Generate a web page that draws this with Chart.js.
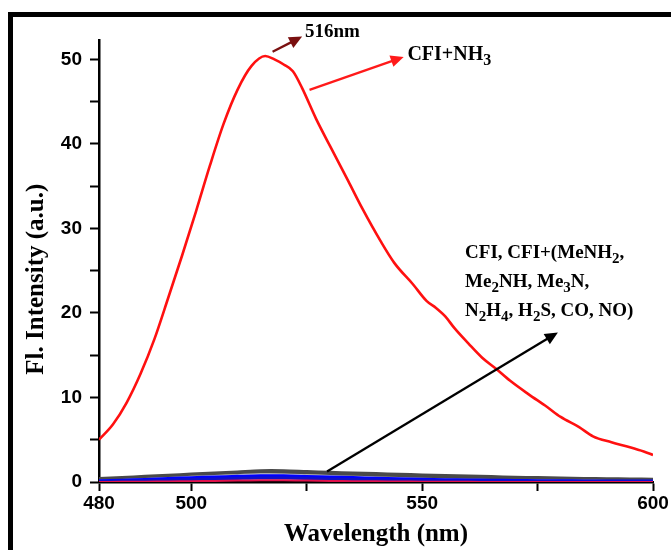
<!DOCTYPE html>
<html>
<head>
<meta charset="utf-8">
<script src="https://cdn.jsdelivr.net/npm/chart.js@4/dist/chart.umd.min.js"></script>
<style>
  html, body { margin: 0; padding: 0; background: #fff; }
  #wrap { width: 671px; height: 550px; position: relative; }
</style>
</head>
<body>
<div id="wrap"><canvas id="c" width="671" height="550"></canvas></div>
<script>
// ---------- data ----------
const nh3Wavelengths = [480,483,486,489,492,495,498,501,504,507,510,513,516,518,520,522,524,527,530,534,537,541,544,548,551,553,555,557,560,563,566,569,573,577,580,584,587,591,595,598,600];
const nh3Intensity   = [5.0,6.8,9.4,12.8,16.9,21.8,26.8,32.0,37.4,42.4,46.4,49.2,50.4,50.0,49.4,48.6,46.6,43.0,39.8,35.6,32.4,28.5,25.9,23.4,21.4,20.6,19.6,18.2,16.4,14.7,13.4,12.0,10.4,8.9,7.7,6.5,5.4,4.7,4.1,3.6,3.2];

const lowWavelengths = [480,485,490,495,500,505,510,515,520,525,530,535,540,545,550,555,560,565,570,575,580,585,590,595,600];
const cfiGray        = [0.30,0.40,0.55,0.68,0.82,0.95,1.08,1.22,1.22,1.12,1.03,0.95,0.88,0.80,0.72,0.65,0.58,0.52,0.45,0.40,0.35,0.30,0.27,0.24,0.22];
const lightGray      = [0.10,0.18,0.30,0.42,0.55,0.65,0.75,0.85,0.84,0.75,0.65,0.56,0.48,0.40,0.33,0.27,0.22,0.18,0.14,0.12,0.10,0.08,0.07,0.06,0.05];
const blueSeries     = [0.05,0.12,0.22,0.32,0.42,0.50,0.58,0.65,0.64,0.57,0.50,0.43,0.36,0.30,0.24,0.19,0.15,0.12,0.09,0.07,0.05,0.04,0.03,0.03,0.02];
const navySeries     = [0.03,0.08,0.15,0.22,0.30,0.36,0.42,0.47,0.46,0.41,0.36,0.30,0.25,0.20,0.16,0.12,0.10,0.08,0.06,0.05,0.04,0.03,0.02,0.02,0.02];
const redLow         = [0.00,0.02,0.04,0.07,0.10,0.13,0.17,0.20,0.20,0.17,0.13,0.10,0.08,0.06,0.04,0.03,0.02,0.01,0.01,0.00,0.00,0.00,0.00,0.00,0.00];

const xTicks = [480, 500, 525, 550, 575, 600];
const xLabelled = [480, 500, 550, 600];
const yTicks = [0,5,10,15,20,25,30,35,40,45,50];
const yLabelled = [0,10,20,30,40,50];
const yTitle = 'Fl. Intensity (a.u.)';
const xTitle = 'Wavelength (nm)';

// ---------- annotation anchors (data coordinates) ----------
const notes = {
  peakArrow:  { from: [517.6, 50.9], to: [524.0, 52.7], color: '#7a1010' },
  peakText:   { at: [524.6, 53.2], parts: [['516nm', 0]], size: 19 },
  nh3Arrow:   { from: [525.6, 46.4], to: [546.0, 50.3], color: '#ff1a1a' },
  nh3Text:    { at: [546.8, 50.6], parts: [['CFI+NH', 0], ['3', 1]], size: 20 },
  otherArrow: { from: [529.4, 1.25], to: [579.4, 17.7], color: '#000000' },
  otherText1: { at: [559.3, 27.1], parts: [['CFI, CFI+(MeNH', 0], ['2', 1], [',', 0]], size: 19 },
  otherText2: { at: [559.3, 23.6], parts: [['Me', 0], ['2', 1], ['NH, Me', 0], ['3', 1], ['N,', 0]], size: 19 },
  otherText3: { at: [559.3, 20.2], parts: [['N', 0], ['2', 1], ['H', 0], ['4', 1], [', H', 0], ['2', 1], ['S, CO, NO)', 0]], size: 19 }
};

function pts(xs, ys) { return xs.map((x, i) => ({ x: x, y: ys[i] })); }

const SERIF = '"Liberation Serif", "Times New Roman", serif';
const SANS = '"Liberation Sans", Arial, sans-serif';

function drawArrow(ctx, x1, y1, x2, y2, color) {
  const ang = Math.atan2(y2 - y1, x2 - x1);
  const hl = 13, hw = 6;
  ctx.save();
  ctx.strokeStyle = color; ctx.fillStyle = color;
  ctx.lineWidth = 2.3;
  ctx.beginPath();
  ctx.moveTo(x1, y1);
  ctx.lineTo(x2 - Math.cos(ang) * hl * 0.8, y2 - Math.sin(ang) * hl * 0.8);
  ctx.stroke();
  ctx.beginPath();
  ctx.moveTo(x2, y2);
  ctx.lineTo(x2 - hl * Math.cos(ang) + hw * Math.sin(ang), y2 - hl * Math.sin(ang) - hw * Math.cos(ang));
  ctx.lineTo(x2 - hl * Math.cos(ang) - hw * Math.sin(ang), y2 - hl * Math.sin(ang) + hw * Math.cos(ang));
  ctx.closePath();
  ctx.fill();
  ctx.restore();
}

function drawRich(ctx, x, y, parts, size) {
  ctx.save();
  ctx.fillStyle = '#000';
  ctx.textBaseline = 'middle';
  ctx.textAlign = 'left';
  let cx = x;
  parts.forEach(([t, sub]) => {
    const s = sub ? Math.round(size * 0.8) : size;
    ctx.font = 'bold ' + s + 'px ' + SERIF;
    ctx.fillText(t, cx, sub ? y + size * 0.3 : y);
    cx += ctx.measureText(t).width;
  });
  ctx.restore();
}

const decor = {
  id: 'decor',
  beforeDraw(chart) {
    const ctx = chart.ctx;
    ctx.save();
    ctx.fillStyle = '#fff';
    ctx.fillRect(0, 0, chart.width, chart.height);
    ctx.fillStyle = '#000';
    ctx.fillRect(8, 12, chart.width - 8, 5);
    ctx.fillRect(8, 12, 5, chart.height - 12);
    ctx.restore();
  },
  afterDraw(chart) {
    const ctx = chart.ctx;
    const xs = chart.scales.x, ys = chart.scales.y;
    const px = (p) => [xs.getPixelForValue(p[0]), ys.getPixelForValue(p[1])];
    ctx.save();
    ctx.translate(37, ys.getPixelForValue(24));
    ctx.rotate(-Math.PI / 2);
    ctx.font = 'bold 25px ' + SERIF;
    ctx.fillStyle = '#000';
    ctx.textAlign = 'center';
    ctx.textBaseline = 'middle';
    ctx.fillText(yTitle, 0, 0);
    ctx.restore();
    Object.values(notes).forEach(n => {
      if (n.from) {
        const a = px(n.from), b = px(n.to);
        drawArrow(ctx, a[0], a[1], b[0], b[1], n.color);
      } else {
        const a = px(n.at);
        drawRich(ctx, a[0], a[1], n.parts, n.size);
      }
    });
  }
};

new Chart(document.getElementById('c'), {
  type: 'line',
  data: {
    datasets: [
      { label: 'CFI+NH3', data: pts(nh3Wavelengths, nh3Intensity), borderColor: '#ff1010', borderWidth: 2.6, cubicInterpolationMode: 'monotone', order: 0 },
      { label: 'CFI+NO', data: pts(lowWavelengths, redLow), borderColor: '#e0104a', borderWidth: 2, tension: 0.3, order: 1 },
      { label: 'CFI+H2S', data: pts(lowWavelengths, navySeries), borderColor: '#1010c8', borderWidth: 3, tension: 0.3, order: 2 },
      { label: 'CFI+MeNH2', data: pts(lowWavelengths, blueSeries), borderColor: '#0000ff', borderWidth: 4.5, tension: 0.3, order: 3 },
      { label: 'CFI+Me2NH', data: pts(lowWavelengths, lightGray), borderColor: '#c8c8d0', borderWidth: 3, tension: 0.3, order: 4 },
      { label: 'CFI', data: pts(lowWavelengths, cfiGray), borderColor: '#4a4a4a', borderWidth: 5, tension: 0.3, order: 5 }
    ]
  },
  options: {
    responsive: false,
    animation: false,
    events: [],
    layout: { padding: { left: 0, top: 40, right: 18, bottom: 0 } },
    elements: { point: { radius: 0 } },
    plugins: { legend: { display: false }, tooltip: { enabled: false } },
    scales: {
      x: {
        type: 'linear', min: 480, max: 600,
        afterFit(s) { s.height = 68; },
        afterBuildTicks(s) { s.ticks = xTicks.map(v => ({ value: v })); },
        border: { display: true, color: '#000', width: 2.5 },
        grid: { drawOnChartArea: false, drawTicks: true, tickLength: 9, tickWidth: 2, tickColor: '#000' },
        ticks: {
          padding: 1, color: '#000', maxRotation: 0, autoSkip: false,
          font: { family: SANS, weight: 'bold', size: 19 },
          callback: (v) => xLabelled.includes(v) ? String(v) : ''
        },
        title: { display: true, text: xTitle, color: '#000', padding: { top: 0, bottom: 0 },
                 font: { family: SERIF, weight: 'bold', size: 25 } }
      },
      y: {
        type: 'linear', min: 0, max: 52.3,
        afterFit(s) { s.width = 99; },
        afterBuildTicks(s) { s.ticks = yTicks.map(v => ({ value: v })); },
        border: { display: true, color: '#000', width: 2.5 },
        grid: { drawOnChartArea: false, drawTicks: true, tickLength: 9, tickWidth: 2, tickColor: '#000' },
        ticks: {
          padding: 8, color: '#000', autoSkip: false,
          font: { family: SANS, weight: 'bold', size: 19 },
          callback: (v) => yLabelled.includes(v) ? String(v) : ''
        },
        title: { display: false }
      }
    }
  },
  plugins: [decor]
});
</script>
</body>
</html>
